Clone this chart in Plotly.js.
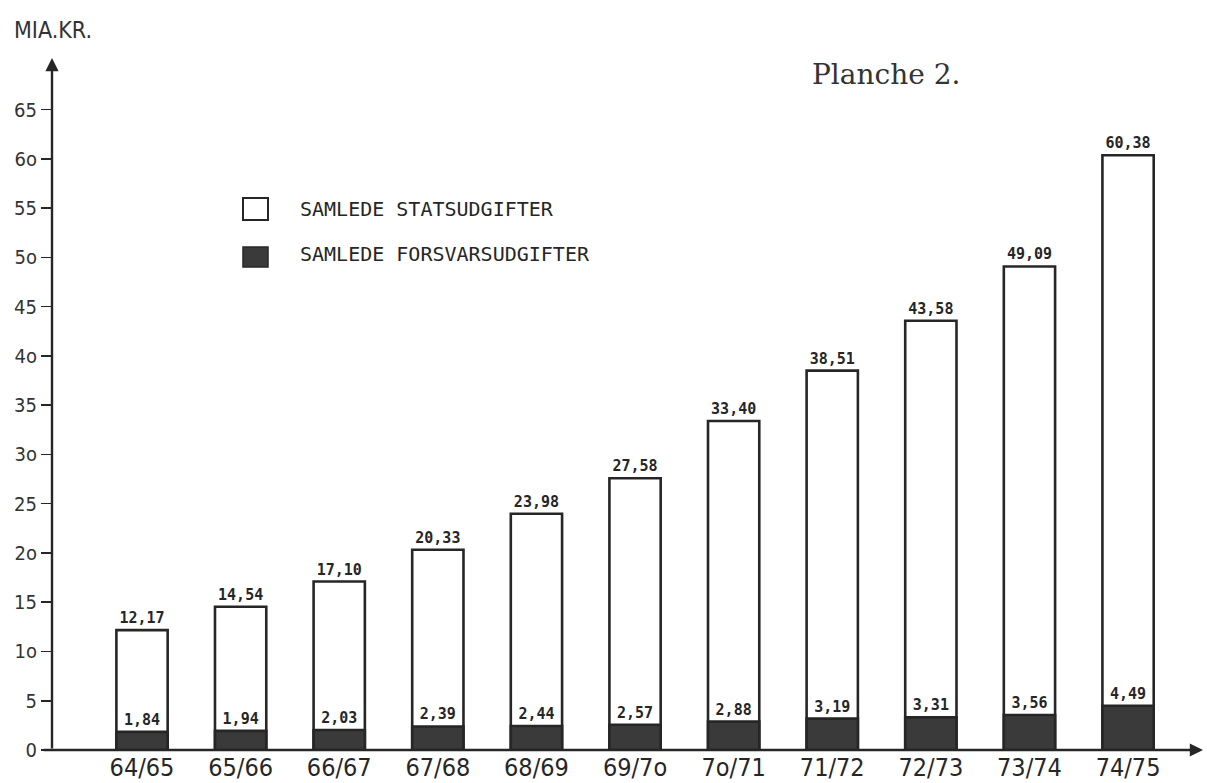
<!DOCTYPE html>
<html>
<head>
<meta charset="utf-8">
<script src="https://cdn.plot.ly/plotly-3.0.1.min.js"></script>
<style>html,body{margin:0;padding:0;background:#fff;}#chart{width:1207px;height:783px;}</style>
</head>
<body>
<div id="chart"></div>
<script>
var categories = ['64/65','65/66','66/67','67/68','68/69','69/7o','7o/71','71/72','72/73','73/74','74/75'];
var totalSpending = [12.17, 14.54, 17.10, 20.33, 23.98, 27.58, 33.40, 38.51, 43.58, 49.09, 60.38];
var defenceSpending = [1.84, 1.94, 2.03, 2.39, 2.44, 2.57, 2.88, 3.19, 3.31, 3.56, 4.49];
var yTickValues = [0, 5, 10, 15, 20, 25, 30, 35, 40, 45, 50, 55, 60, 65];
var yTickLabels = ['0', '5', '1o', '15', '2o', '25', '3o', '35', '4o', '45', '5o', '55', '6o', '65'];
var seriesNames = ['SAMLEDE STATSUDGIFTER', 'SAMLEDE FORSVARSUDGIFTER'];

function fmt(v){ return v.toFixed(2).replace('.', ','); }
var xIdx = categories.map(function(c, i){ return i; });

var ink = '#262626';
var labelFont = {family: 'DejaVu Sans Mono, Liberation Mono, monospace', size: 15, color: ink, weight: 'bold'};
var condensed = 'DejaVu Sans Condensed, Liberation Sans Narrow, sans-serif';

var traces = [
  {
    type: 'bar', x: xIdx, y: totalSpending, name: seriesNames[0],
    width: 0.52,
    marker: {color: '#ffffff', line: {color: ink, width: 2.6}},
    text: totalSpending.map(fmt), textposition: 'outside', cliponaxis: false,
    textfont: labelFont, hoverinfo: 'skip'
  },
  {
    type: 'bar', x: xIdx, y: defenceSpending, name: seriesNames[1],
    width: 0.52,
    marker: {color: '#3a3a3a', line: {color: ink, width: 2.6}},
    text: defenceSpending.map(fmt), textposition: 'outside', cliponaxis: false,
    textfont: labelFont, hoverinfo: 'skip'
  }
];

var xMin = -0.913, xMax = 10.76, yMax = 70.25;

var layout = {
  width: 1207, height: 783,
  margin: {l: 52, r: 4, t: 58, b: 33},
  paper_bgcolor: '#ffffff', plot_bgcolor: '#ffffff',
  barmode: 'overlay',
  showlegend: false,
  xaxis: {
    range: [xMin, xMax], tickmode: 'array', tickvals: xIdx, ticktext: categories,
    showgrid: false, zeroline: false, showline: false, ticks: '',
    tickfont: {family: condensed, size: 25, color: ink}
  },
  yaxis: {
    range: [0, yMax], tickmode: 'array', tickvals: yTickValues, ticktext: yTickLabels,
    showgrid: false, zeroline: false, showline: false, ticks: 'outside', ticklen: 10,
    tickwidth: 1.5, tickcolor: ink,
    tickfont: {family: condensed, size: 20, color: '#333'}
  },
  shapes: [
    {type: 'rect', xref: 'paper', yref: 'paper',
     x0: (243-52)/1151, x1: (268-52)/1151, y0: (750-220)/692, y1: (750-198)/692,
     line: {color: ink, width: 2}, fillcolor: '#ffffff'},
    {type: 'rect', xref: 'paper', yref: 'paper',
     x0: (243-52)/1151, x1: (268-52)/1151, y0: (750-267)/692, y1: (750-247)/692,
     line: {color: ink, width: 1.5}, fillcolor: '#3a3a3a'}
  ],
  annotations: [
    {xref: 'x', yref: 'y', x: xMin, y: yMax, ax: xMin, ay: 0, axref: 'x', ayref: 'y',
     showarrow: true, arrowhead: 2, arrowsize: 1.1, arrowwidth: 2.4, arrowcolor: ink, text: ''},
    {xref: 'x', yref: 'y', x: xMax, y: 0, ax: xMin - 0.1, ay: 0, axref: 'x', ayref: 'y',
     showarrow: true, arrowhead: 2, arrowsize: 1.1, arrowwidth: 2.4, arrowcolor: ink, text: ''},
    {xref: 'paper', yref: 'paper', x: (298-52)/1151, y: (750-209)/692, xanchor: 'left', yanchor: 'middle',
     showarrow: false, text: seriesNames[0],
     font: {family: 'DejaVu Sans Mono, Liberation Mono, monospace', size: 20, color: ink}},
    {xref: 'paper', yref: 'paper', x: (298-52)/1151, y: (750-254)/692, xanchor: 'left', yanchor: 'middle',
     showarrow: false, text: seriesNames[1],
     font: {family: 'DejaVu Sans Mono, Liberation Mono, monospace', size: 20, color: ink}},
    {xref: 'paper', yref: 'paper', x: -40/1151, y: (750-30)/692, xanchor: 'left', yanchor: 'middle',
     showarrow: false, text: 'MIA.KR.',
     font: {family: condensed, size: 23, color: '#333'}},
    {xref: 'paper', yref: 'paper', x: (810-52)/1151, y: (750-74)/692, xanchor: 'left', yanchor: 'middle',
     showarrow: false, text: 'Planche 2.',
     font: {family: 'DejaVu Serif, Liberation Serif, serif', size: 28, color: '#333'}}
  ]
};

Plotly.newPlot('chart', traces, layout, {displayModeBar: false, staticPlot: true});
</script>
</body>
</html>
